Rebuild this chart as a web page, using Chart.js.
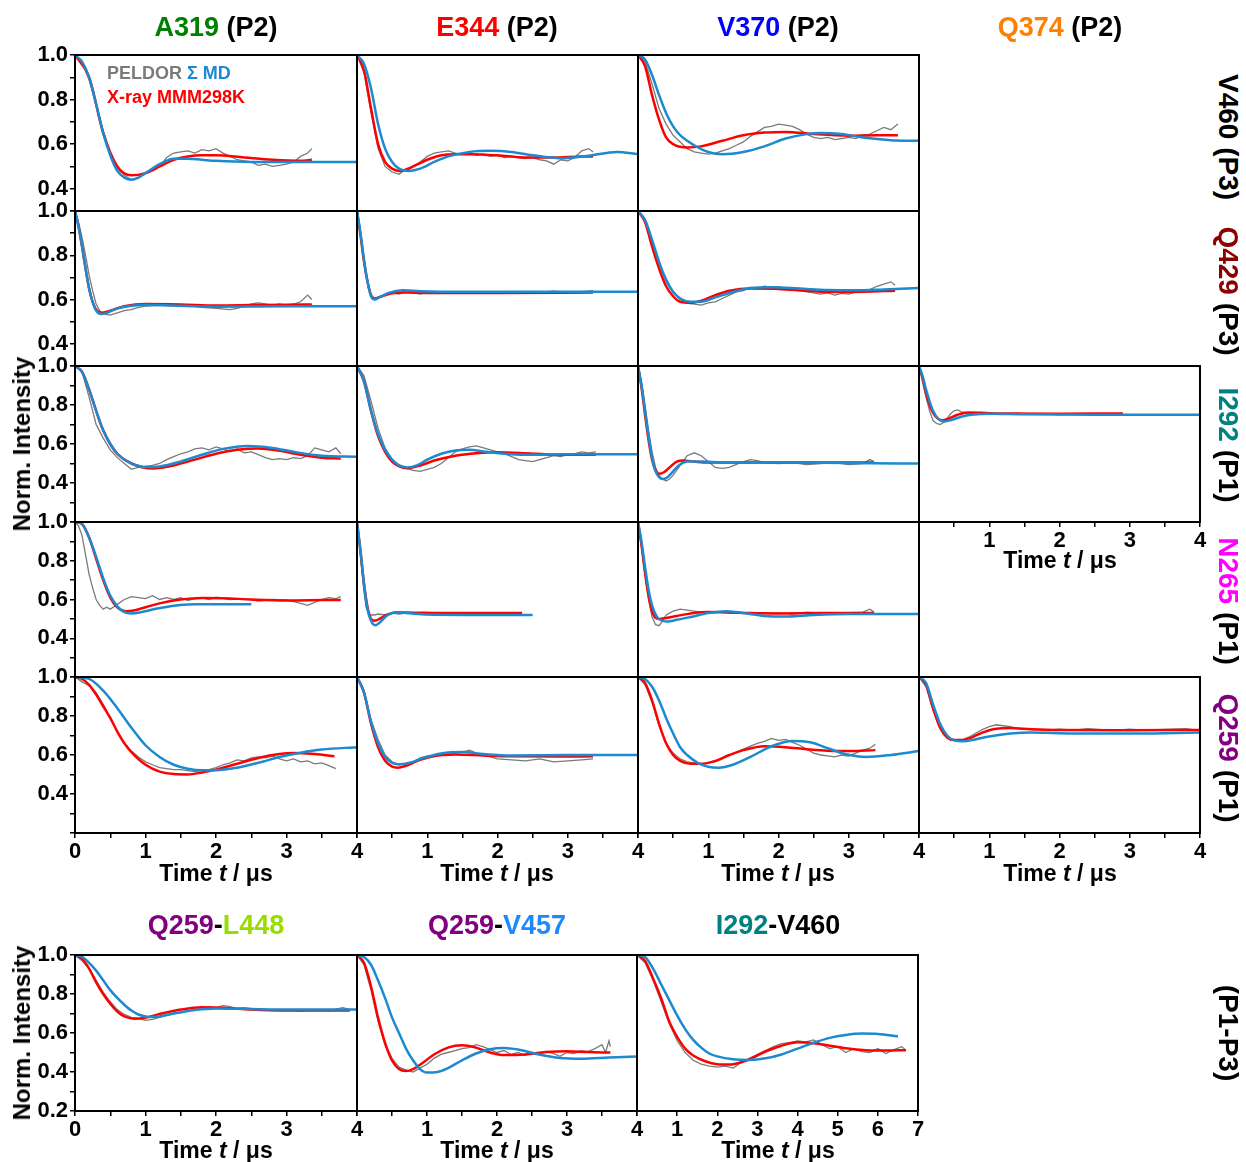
<!DOCTYPE html>
<html>
<head>
<meta charset="utf-8">
<script src="https://cdn.jsdelivr.net/npm/chart.js@4.4.1/dist/chart.umd.min.js"></script>
<style>
  body { margin: 0; background: #fff; }
  #fig { position: relative; width: 1246px; height: 1162px; font-family: "Liberation Sans", Arial, sans-serif; font-weight: bold; }
  #fig canvas { position: absolute; }
  .lbl { position: absolute; white-space: nowrap; transform: translate(-50%, -50%); color: #000; }
  .head { font-size: 27px; }
  .side { font-size: 28px; transform: translate(-50%, -50%) rotate(90deg); }
  .ylab { font-size: 24px; transform: translate(-50%, -50%) rotate(-90deg); }
  .time { font-size: 23px; }
  .leg { position: absolute; font-size: 18px; white-space: nowrap; transform: translateY(-50%); }
</style>
</head>
<body>
<div id="fig"></div>
<script>
// ---- data: [time in us, normalised intensity] ----
// row V460 (P3)
const A319_V460_exp = [[0,1],[.1,.97],[.2,.89],[.3,.78],[.4,.66],[.5,.56],[.6,.49],[.7,.46],[.8,.44],[.9,.45],[1,.47],[1.1,.48],[1.2,.5],[1.3,.54],[1.4,.56],[1.5,.565],[1.6,.57],[1.7,.56],[1.8,.575],[1.9,.57],[2,.58],[2.1,.56],[2.2,.545],[2.3,.53],[2.4,.525],[2.5,.52],[2.6,.505],[2.7,.51],[2.8,.5],[2.9,.505],[3,.51],[3.1,.52],[3.2,.545],[3.3,.56],[3.36,.58]];
const A319_V460_xray = [[0,1],[.2,.9],[.4,.65],[.6,.5],[.8,.46],[1,.47],[1.2,.5],[1.4,.53],[1.6,.545],[1.8,.55],[2,.55],[2.4,.54],[2.8,.53],[3.2,.525],[3.36,.53]];
const A319_V460_md = [[0,1],[.1,.97],[.2,.9],[.3,.78],[.4,.65],[.5,.55],[.6,.48],[.7,.45],[.8,.44],[.9,.45],[1,.47],[1.2,.51],[1.4,.535],[1.6,.535],[1.8,.53],[2,.525],[2.5,.52],[3,.52],[4,.52]];

const E344_V460_exp = [[0,1],[.1,.92],[.2,.74],[.3,.58],[.4,.5],[.5,.475],[.6,.465],[.7,.49],[.8,.5],[.9,.52],[1,.545],[1.1,.56],[1.2,.565],[1.3,.57],[1.4,.56],[1.5,.555],[1.6,.56],[1.7,.55],[1.8,.555],[1.9,.545],[2,.55],[2.1,.54],[2.2,.545],[2.3,.54],[2.4,.535],[2.5,.54],[2.6,.53],[2.7,.525],[2.8,.51],[2.9,.53],[3,.525],[3.1,.54],[3.2,.57],[3.3,.58],[3.36,.565]];
const E344_V460_xray = [[0,1],[.1,.93],[.2,.76],[.3,.6],[.4,.52],[.5,.49],[.6,.48],[.7,.485],[.8,.5],[1,.53],[1.2,.55],[1.4,.555],[1.6,.555],[2,.55],[2.4,.54],[2.8,.54],[3.2,.545],[3.36,.545]];
const E344_V460_md = [[0,1],[.1,.96],[.2,.85],[.3,.69],[.4,.58],[.5,.52],[.6,.49],[.75,.48],[.9,.49],[1.1,.52],[1.3,.545],[1.6,.565],[1.9,.57],[2.2,.565],[2.5,.55],[2.9,.537],[3.3,.548],[3.7,.565],[4,.555]];

const V370_V460_exp = [[0,1],[.1,.97],[.2,.87],[.3,.76],[.4,.69],[.5,.64],[.6,.61],[.7,.58],[.8,.565],[.9,.56],[1,.555],[1.1,.56],[1.2,.57],[1.3,.58],[1.4,.595],[1.5,.61],[1.6,.635],[1.7,.655],[1.8,.675],[1.9,.68],[2,.69],[2.1,.685],[2.2,.68],[2.3,.665],[2.4,.645],[2.5,.63],[2.6,.625],[2.7,.63],[2.8,.62],[2.9,.625],[3,.63],[3.1,.625],[3.2,.64],[3.3,.645],[3.4,.66],[3.5,.675],[3.6,.665],[3.7,.69]];
const V370_V460_xray = [[0,1],[.1,.95],[.2,.82],[.3,.71],[.4,.63],[.5,.6],[.7,.585],[.9,.59],[1.2,.615],[1.5,.64],[1.8,.652],[2.1,.655],[2.5,.645],[3,.638],[3.4,.64],[3.7,.64]];
const V370_V460_md = [[0,1],[.1,.98],[.2,.91],[.3,.82],[.4,.74],[.5,.68],[.6,.64],[.8,.595],[1,.565],[1.2,.555],[1.5,.565],[1.8,.59],[2.1,.625],[2.4,.645],[2.6,.65],[2.9,.645],[3.2,.63],[3.6,.618],[4,.615]];

// row Q429 (P3)
const A319_Q429_exp = [[0,1],[.05,.95],[.1,.88],[.15,.8],[.2,.71],[.25,.64],[.3,.58],[.35,.55],[.4,.535],[.5,.53],[.6,.54],[.7,.55],[.8,.555],[.9,.565],[1,.57],[1.2,.575],[1.4,.57],[1.6,.575],[1.8,.565],[2,.56],[2.2,.555],[2.3,.56],[2.4,.57],[2.5,.58],[2.6,.585],[2.7,.58],[2.8,.575],[2.9,.58],[3,.575],[3.1,.58],[3.2,.59],[3.3,.62],[3.36,.6]];
const A319_Q429_xray = [[0,1],[.05,.93],[.1,.84],[.15,.74],[.2,.65],[.25,.59],[.3,.555],[.37,.54],[.5,.55],[.7,.57],[1,.58],[1.5,.578],[2,.573],[2.5,.575],[3,.577],[3.36,.578]];
const A319_Q429_md = [[0,1],[.05,.93],[.1,.84],[.15,.74],[.2,.65],[.25,.59],[.3,.55],[.37,.535],[.45,.54],[.6,.56],[.8,.572],[1,.575],[1.5,.572],[2,.568],[3,.57],[4,.57]];

const E344_Q429_exp = [[0,1],[.05,.9],[.1,.78],[.15,.68],[.2,.62],[.25,.605],[.3,.61],[.4,.62],[.5,.63],[.6,.625],[.7,.64],[.8,.63],[.9,.625],[1,.635],[1.2,.63],[1.4,.635],[1.6,.628],[1.8,.634],[2,.632],[2.2,.636],[2.4,.63],[2.6,.634],[2.8,.638],[3,.632],[3.2,.636],[3.36,.64]];
const E344_Q429_xray = [[0,1],[.05,.89],[.1,.77],[.15,.68],[.2,.62],[.25,.605],[.35,.615],[.5,.628],[.7,.632],[1,.63],[2,.63],[3.36,.632]];
const E344_Q429_md = [[0,1],[.05,.9],[.1,.78],[.15,.68],[.2,.615],[.25,.6],[.32,.61],[.45,.63],[.65,.642],[.9,.638],[1.5,.635],[2.5,.635],[4,.635]];

const V370_Q429_exp = [[0,1],[.1,.96],[.2,.86],[.3,.76],[.4,.68],[.5,.63],[.6,.6],[.7,.585],[.8,.58],[.9,.575],[1,.585],[1.1,.59],[1.2,.605],[1.3,.62],[1.4,.635],[1.5,.64],[1.6,.655],[1.7,.65],[1.8,.66],[1.9,.655],[2,.658],[2.1,.65],[2.2,.645],[2.3,.64],[2.4,.635],[2.5,.63],[2.6,.625],[2.7,.63],[2.8,.62],[2.9,.628],[3,.625],[3.1,.635],[3.2,.64],[3.3,.645],[3.4,.66],[3.5,.67],[3.6,.68],[3.66,.665]];
const V370_Q429_xray = [[0,1],[.1,.95],[.2,.84],[.3,.74],[.4,.66],[.5,.615],[.6,.59],[.75,.585],[.9,.595],[1.1,.62],[1.3,.64],[1.6,.65],[2,.648],[2.4,.64],[2.8,.634],[3.2,.635],[3.66,.64]];
const V370_Q429_md = [[0,1],[.1,.96],[.2,.87],[.3,.77],[.4,.69],[.5,.635],[.6,.605],[.75,.59],[.9,.59],[1.1,.61],[1.3,.63],[1.6,.652],[1.9,.656],[2.3,.65],[2.7,.643],[3.1,.642],[3.5,.646],[4,.652]];

// row I292 (P1)
const A319_I292_exp = [[0,1],[.1,.97],[.2,.84],[.3,.7],[.4,.63],[.5,.57],[.6,.53],[.7,.5],[.8,.47],[.9,.48],[1,.485],[1.1,.49],[1.2,.5],[1.3,.52],[1.4,.535],[1.5,.55],[1.6,.56],[1.7,.575],[1.8,.58],[1.9,.57],[2,.585],[2.1,.575],[2.2,.56],[2.3,.575],[2.4,.555],[2.5,.56],[2.6,.545],[2.7,.53],[2.8,.52],[2.9,.525],[3,.52],[3.1,.53],[3.2,.525],[3.3,.54],[3.4,.58],[3.5,.57],[3.6,.56],[3.7,.58],[3.77,.55]];
const A319_I292_xray = [[0,1],[.1,.97],[.2,.88],[.3,.77],[.4,.67],[.5,.6],[.6,.55],[.8,.5],[1.1,.475],[1.4,.49],[1.7,.52],[2,.55],[2.3,.57],[2.6,.577],[2.9,.565],[3.2,.545],[3.5,.53],[3.77,.525]];
const A319_I292_md = [[0,1],[.1,.97],[.2,.88],[.3,.77],[.4,.67],[.5,.6],[.6,.55],[.8,.5],[1,.482],[1.2,.485],[1.5,.51],[1.8,.545],[2.1,.575],[2.45,.59],[2.8,.58],[3.1,.56],[3.5,.54],[4,.535]];

const E344_I292_exp = [[0,1],[.1,.95],[.2,.82],[.3,.68],[.4,.58],[.5,.52],[.6,.49],[.7,.475],[.8,.465],[.9,.46],[1,.47],[1.1,.48],[1.2,.5],[1.3,.53],[1.4,.56],[1.5,.575],[1.6,.585],[1.7,.59],[1.8,.58],[1.9,.57],[2,.56],[2.1,.55],[2.2,.535],[2.3,.52],[2.4,.515],[2.5,.51],[2.6,.52],[2.7,.53],[2.8,.54],[2.9,.535],[3,.545],[3.1,.55],[3.2,.56],[3.3,.555],[3.4,.56]];
const E344_I292_xray = [[0,1],[.1,.92],[.2,.77],[.3,.64],[.4,.56],[.5,.51],[.6,.485],[.72,.476],[.9,.49],[1.1,.515],[1.4,.54],[1.7,.553],[2,.558],[2.4,.553],[2.8,.545],[3.4,.545]];
const E344_I292_md = [[0,1],[.1,.92],[.2,.77],[.3,.65],[.4,.57],[.5,.52],[.6,.49],[.72,.48],[.85,.49],[1,.52],[1.2,.55],[1.4,.567],[1.6,.57],[1.8,.562],[2.1,.55],[2.4,.545],[3,.548],[4,.548]];

const V370_I292_exp = [[0,1],[.05,.92],[.1,.8],[.15,.67],[.2,.56],[.25,.48],[.3,.44],[.35,.42],[.4,.41],[.45,.42],[.5,.44],[.6,.49],[.7,.54],[.8,.555],[.9,.54],[1,.51],[1.1,.48],[1.2,.475],[1.3,.48],[1.4,.495],[1.5,.51],[1.6,.52],[1.7,.515],[1.8,.505],[2,.5],[2.2,.505],[2.4,.495],[2.6,.5],[2.8,.505],[3,.495],[3.2,.5],[3.3,.52],[3.36,.51]];
const V370_I292_xray = [[0,1],[.05,.89],[.1,.75],[.15,.62],[.2,.52],[.25,.465],[.3,.447],[.37,.455],[.45,.48],[.55,.51],[.65,.515],[.8,.51],[1,.505],[2,.505],[3.36,.505]];
const V370_I292_md = [[0,1],[.05,.9],[.1,.77],[.15,.64],[.2,.53],[.25,.46],[.3,.43],[.35,.42],[.42,.43],[.5,.46],[.6,.495],[.7,.51],[.9,.51],[1.2,.505],[2,.505],[3,.502],[4,.5]];

const Q374_I292_exp = [[0,1],[.05,.92],[.1,.84],[.15,.77],[.2,.72],[.25,.705],[.3,.7],[.35,.71],[.4,.73],[.45,.755],[.5,.77],[.55,.775],[.6,.765],[.7,.76],[.8,.75],[.9,.755],[1,.76],[1.2,.755],[1.4,.758],[1.6,.752],[1.8,.756],[2,.75],[2.2,.755],[2.4,.752],[2.6,.756],[2.8,.752],[2.9,.76]];
const Q374_I292_xray = [[0,1],[.05,.94],[.1,.86],[.15,.8],[.2,.76],[.27,.73],[.33,.722],[.42,.73],[.55,.75],[.7,.762],[.9,.76],[1.2,.756],[2,.755],[2.9,.757]];
const Q374_I292_md = [[0,1],[.05,.95],[.1,.88],[.15,.82],[.2,.77],[.27,.73],[.36,.716],[.45,.722],[.6,.74],[.8,.752],[1,.755],[1.5,.752],[2.5,.75],[4,.75]];

// row N265 (P1)
const A319_N265_exp = [[0,1],[.05,.98],[.1,.93],[.15,.83],[.2,.73],[.25,.66],[.3,.6],[.35,.57],[.4,.55],[.45,.56],[.5,.55],[.6,.575],[.7,.6],[.8,.615],[.9,.61],[1,.605],[1.1,.62],[1.2,.6],[1.3,.61],[1.4,.6],[1.5,.61],[1.6,.595],[1.7,.605],[1.8,.61],[1.9,.6],[2,.612],[2.2,.6],[2.4,.605],[2.6,.592],[2.8,.6],[3,.598],[3.2,.58],[3.3,.57],[3.4,.585],[3.5,.6],[3.6,.61],[3.7,.605],[3.77,.615]];
const A319_N265_xray = [[0,1],[.1,.99],[.2,.92],[.3,.81],[.4,.7],[.5,.61],[.6,.56],[.72,.54],[.85,.545],[1,.56],[1.2,.58],[1.5,.6],[1.8,.608],[2.1,.607],[2.5,.6],[3,.595],[3.5,.597],[3.77,.598]];
const A319_N265_md = [[0,1],[.1,.99],[.2,.92],[.3,.82],[.4,.71],[.5,.62],[.6,.565],[.7,.535],[.8,.528],[.95,.535],[1.15,.552],[1.4,.568],[1.7,.575],[2,.576],[2.5,.575]];

const E344_N265_exp = [[0,1],[.03,.9],[.06,.78],[.1,.64],[.13,.56],[.16,.53],[.2,.52],[.25,.52],[.3,.525],[.4,.52],[.5,.53],[.6,.525],[.7,.53],[.8,.528],[1,.53],[1.2,.526],[1.4,.532],[1.6,.528],[1.8,.53],[2,.527],[2.2,.532],[2.35,.53]];
const E344_N265_xray = [[0,1],[.05,.85],[.1,.68],[.15,.56],[.2,.5],[.25,.49],[.32,.5],[.42,.52],[.55,.533],[.8,.532],[1.2,.53],[2.35,.53]];
const E344_N265_md = [[0,1],[.05,.85],[.1,.68],[.15,.55],[.2,.49],[.26,.467],[.32,.48],[.42,.515],[.55,.533],[.7,.53],[1,.522],[1.5,.52],[2,.52],[2.5,.52]];

const V370_N265_exp = [[0,1],[.05,.87],[.1,.72],[.15,.6],[.2,.51],[.25,.47],[.3,.465],[.35,.49],[.4,.52],[.5,.54],[.6,.55],[.7,.545],[.8,.54],[.9,.535],[1,.53],[1.2,.535],[1.4,.53],[1.6,.528],[1.8,.532],[2,.53],[2.2,.525],[2.4,.535],[2.6,.53],[2.8,.528],[3,.532],[3.2,.535],[3.3,.55],[3.36,.535]];
const V370_N265_xray = [[0,1],[.05,.88],[.1,.74],[.15,.62],[.2,.54],[.25,.505],[.3,.5],[.4,.505],[.55,.515],[.75,.528],[1,.535],[1.4,.532],[2,.528],[2.6,.53],[3.36,.53]];
const V370_N265_md = [[0,1],[.05,.9],[.1,.77],[.15,.65],[.2,.57],[.27,.51],[.35,.49],[.42,.487],[.55,.495],[.75,.51],[1,.53],[1.25,.54],[1.5,.53],[1.8,.515],[2.1,.512],[2.5,.52],[3,.525],[4,.525]];

// row Q259 (P1)
const A319_Q259_exp = [[0,1],[.1,.975],[.2,.955],[.3,.92],[.4,.86],[.5,.79],[.6,.72],[.7,.66],[.8,.62],[.9,.59],[1,.565],[1.1,.55],[1.2,.535],[1.3,.53],[1.4,.525],[1.5,.525],[1.6,.52],[1.7,.515],[1.8,.52],[1.9,.525],[2,.535],[2.1,.55],[2.2,.56],[2.3,.575],[2.4,.57],[2.5,.585],[2.6,.59],[2.7,.585],[2.8,.595],[2.9,.58],[3,.57],[3.1,.58],[3.2,.565],[3.3,.57],[3.4,.555],[3.5,.56],[3.6,.545],[3.7,.53]];
const A319_Q259_xray = [[0,1],[.1,.99],[.2,.96],[.3,.91],[.4,.85],[.5,.79],[.6,.72],[.7,.66],[.8,.615],[1,.55],[1.2,.515],[1.4,.502],[1.6,.5],[1.8,.51],[2,.525],[2.3,.555],[2.6,.585],[2.9,.605],[3.1,.61],[3.4,.605],[3.68,.593]];
const A319_Q259_md = [[0,1],[.2,.99],[.4,.93],[.6,.84],[.8,.74],[1,.65],[1.2,.59],[1.4,.55],[1.6,.53],[1.8,.522],[2,.522],[2.3,.535],[2.6,.56],[2.9,.59],[3.2,.612],[3.5,.628],[4,.64]];

const E344_Q259_exp = [[0,1],[.05,.97],[.1,.93],[.15,.85],[.2,.78],[.3,.68],[.4,.6],[.5,.565],[.6,.55],[.7,.555],[.8,.565],[.9,.585],[1,.595],[1.1,.59],[1.2,.6],[1.3,.605],[1.4,.61],[1.5,.615],[1.6,.625],[1.7,.61],[1.8,.6],[1.9,.59],[2,.58],[2.2,.575],[2.4,.57],[2.6,.58],[2.8,.565],[3,.57],[3.2,.575],[3.36,.58]];
const E344_Q259_xray = [[0,1],[.1,.92],[.2,.76],[.3,.64],[.4,.57],[.5,.54],[.58,.535],[.7,.545],[.9,.575],[1.1,.595],[1.4,.603],[1.8,.597],[2.2,.593],[3,.592],[3.36,.593]];
const E344_Q259_md = [[0,1],[.1,.92],[.2,.77],[.3,.66],[.4,.59],[.5,.56],[.6,.552],[.75,.56],[.95,.585],[1.2,.608],[1.5,.615],[1.8,.605],[2.2,.598],[3,.6],[4,.6]];

const V370_Q259_exp = [[0,1],[.1,.96],[.2,.87],[.3,.75],[.4,.66],[.5,.61],[.6,.58],[.7,.565],[.8,.56],[.9,.555],[1,.56],[1.1,.565],[1.2,.58],[1.3,.6],[1.4,.615],[1.5,.63],[1.6,.645],[1.7,.66],[1.8,.67],[1.9,.685],[2,.675],[2.1,.68],[2.2,.665],[2.3,.65],[2.4,.63],[2.5,.61],[2.6,.6],[2.7,.595],[2.8,.59],[2.9,.6],[3,.595],[3.1,.61],[3.2,.625],[3.3,.635],[3.38,.655]];
const V370_Q259_xray = [[0,1],[.1,.97],[.2,.88],[.3,.76],[.4,.66],[.5,.6],[.6,.57],[.75,.555],[.9,.555],[1.1,.57],[1.3,.6],[1.5,.625],[1.8,.645],[2.1,.64],[2.4,.63],[2.7,.622],[3,.62],[3.38,.625]];
const V370_Q259_md = [[0,1],[.1,.99],[.2,.95],[.3,.88],[.4,.79],[.5,.71],[.6,.64],[.7,.6],[.85,.56],[1,.54],[1.15,.535],[1.35,.55],[1.6,.59],[1.9,.645],[2.2,.672],[2.45,.665],[2.7,.635],[2.95,.605],[3.25,.59],[3.6,.6],[4,.62]];

const Q374_Q259_exp = [[0,1],[.1,.95],[.2,.83],[.3,.74],[.4,.69],[.5,.68],[.6,.675],[.7,.69],[.8,.71],[.9,.73],[1,.745],[1.1,.755],[1.2,.75],[1.3,.745],[1.4,.735],[1.6,.73],[1.8,.728],[2,.733],[2.2,.728],[2.4,.735],[2.6,.73],[2.8,.727],[3,.733],[3.2,.728],[3.4,.73],[3.6,.732],[3.8,.735],[3.9,.73]];
const Q374_Q259_xray = [[0,1],[.1,.96],[.2,.84],[.3,.74],[.4,.69],[.5,.677],[.6,.677],[.75,.69],[.9,.715],[1.1,.735],[1.3,.738],[1.6,.732],[2,.728],[3,.727],[4,.728]];
const Q374_Q259_md = [[0,1],[.1,.97],[.2,.86],[.3,.76],[.4,.7],[.5,.675],[.63,.67],[.8,.68],[1,.695],[1.3,.71],[1.6,.716],[2,.712],[2.5,.71],[3,.71],[3.5,.712],[4,.716]];

// double mutants (P1-P3)
const Q259_L448_exp = [[0,1],[.1,.97],[.2,.93],[.3,.87],[.4,.81],[.5,.76],[.6,.72],[.7,.695],[.8,.68],[.9,.675],[1,.665],[1.1,.67],[1.2,.68],[1.3,.69],[1.4,.7],[1.5,.705],[1.6,.715],[1.7,.72],[1.8,.725],[1.9,.735],[2,.73],[2.1,.74],[2.2,.735],[2.3,.725],[2.4,.73],[2.6,.72],[2.8,.715],[3,.72],[3.2,.712],[3.4,.72],[3.6,.715],[3.8,.73],[3.9,.72]];
const Q259_L448_xray = [[0,1],[.1,.98],[.2,.93],[.3,.86],[.4,.8],[.5,.75],[.6,.71],[.7,.685],[.85,.673],[1,.678],[1.2,.697],[1.5,.72],[1.8,.732],[2.1,.73],[2.5,.72],[3,.715],[3.5,.715],[3.9,.716]];
const Q259_L448_md = [[0,1],[.1,.99],[.2,.96],[.3,.92],[.4,.87],[.5,.82],[.6,.78],[.7,.745],[.8,.715],[.9,.695],[1.05,.682],[1.2,.685],[1.4,.7],[1.7,.718],[2,.726],[2.4,.724],[3,.72],[4,.72]];

const Q259_V457_exp = [[0,1],[.1,.95],[.2,.82],[.3,.66],[.4,.54],[.5,.47],[.6,.425],[.7,.41],[.8,.4],[.9,.42],[1,.44],[1.1,.47],[1.2,.49],[1.3,.5],[1.4,.51],[1.5,.52],[1.6,.525],[1.7,.54],[1.8,.53],[1.9,.515],[2,.5],[2.1,.51],[2.2,.49],[2.3,.5],[2.4,.485],[2.5,.5],[2.6,.49],[2.7,.505],[2.8,.495],[2.9,.48],[3,.5],[3.1,.495],[3.2,.51],[3.3,.505],[3.4,.52],[3.5,.54],[3.55,.5],[3.6,.56],[3.62,.53]];
const Q259_V457_xray = [[0,1],[.1,.96],[.2,.84],[.3,.68],[.4,.55],[.5,.46],[.6,.415],[.7,.405],[.8,.415],[.95,.45],[1.1,.49],[1.3,.525],[1.5,.537],[1.7,.525],[1.9,.5],[2.1,.487],[2.4,.49],[2.7,.503],[3,.507],[3.3,.502],[3.62,.5]];
const Q259_V457_md = [[0,1],[.1,.99],[.2,.95],[.3,.87],[.4,.78],[.5,.68],[.6,.6],[.7,.52],[.8,.46],[.9,.415],[1,.397],[1.15,.4],[1.3,.42],[1.5,.46],[1.7,.495],[1.9,.517],[2.1,.523],[2.3,.515],[2.6,.49],[2.9,.472],[3.2,.468],[3.6,.474],[4,.48]];

const I292_V460_exp = [[0,1],[.2,.96],[.4,.87],[.6,.76],[.8,.65],[1,.56],[1.2,.5],[1.4,.46],[1.6,.44],[1.8,.43],[2,.425],[2.2,.43],[2.4,.42],[2.6,.45],[2.8,.47],[3,.49],[3.2,.51],[3.4,.53],[3.6,.545],[3.8,.55],[4,.56],[4.2,.555],[4.4,.565],[4.6,.54],[4.8,.52],[5,.53],[5.2,.5],[5.4,.52],[5.6,.505],[5.8,.5],[6,.52],[6.2,.495],[6.4,.515],[6.6,.53],[6.7,.51]];
const I292_V460_xray = [[0,1],[.2,.97],[.4,.88],[.6,.78],[.8,.66],[1,.58],[1.2,.52],[1.4,.485],[1.7,.455],[2,.44],[2.3,.438],[2.6,.45],[2.9,.475],[3.2,.505],[3.6,.535],[4,.552],[4.4,.548],[4.8,.535],[5.2,.522],[5.7,.512],[6.2,.51],[6.7,.512]];
const I292_V460_md = [[0,1],[.2,.99],[.4,.93],[.6,.85],[.8,.77],[1,.69],[1.2,.62],[1.4,.565],[1.6,.525],[1.8,.495],[2,.48],[2.4,.465],[2.8,.462],[3.2,.47],[3.6,.49],[4,.52],[4.4,.55],[4.8,.575],[5.2,.59],[5.6,.597],[6,.595],[6.5,.582]];

// ---- text ----
const colTitles = [['A319', '#008000'], ['E344', '#ff0000'], ['V370', '#0000ff'], ['Q374', '#ff8000']];
const rowLabels = [['V460', '#000000', 'P3'], ['Q429', '#8b0000', 'P3'], ['I292', '#008080', 'P1'], ['N265', '#ff00ff', 'P1'], ['Q259', '#800080', 'P1']];

const BLUE = '#1b8ad0', RED = '#ff0000', GRAY = '#7a7a7a';
const ML = 60, MT = 16, MR = 16, MB = 40;

const colX = [75, 357, 638, 919];
const colW = [282, 281, 281, 281];
const rowY = [55, 211, 366, 522, 677];
const rowH = [156, 155, 156, 155, 156];

// c, r: grid cell; ymin: bottom of y range; xt: x tick labels shown
const panels = [
  { c: 0, r: 0, exp: A319_V460_exp, xray: A319_V460_xray, md: A319_V460_md, ymin: 0.3 },
  { c: 1, r: 0, exp: E344_V460_exp, xray: E344_V460_xray, md: E344_V460_md, ymin: 0.3 },
  { c: 2, r: 0, exp: V370_V460_exp, xray: V370_V460_xray, md: V370_V460_md, ymin: 0.3 },
  { c: 0, r: 1, exp: A319_Q429_exp, xray: A319_Q429_xray, md: A319_Q429_md, ymin: 0.3 },
  { c: 1, r: 1, exp: E344_Q429_exp, xray: E344_Q429_xray, md: E344_Q429_md, ymin: 0.3 },
  { c: 2, r: 1, exp: V370_Q429_exp, xray: V370_Q429_xray, md: V370_Q429_md, ymin: 0.3 },
  { c: 0, r: 2, exp: A319_I292_exp, xray: A319_I292_xray, md: A319_I292_md, ymin: 0.2 },
  { c: 1, r: 2, exp: E344_I292_exp, xray: E344_I292_xray, md: E344_I292_md, ymin: 0.2 },
  { c: 2, r: 2, exp: V370_I292_exp, xray: V370_I292_xray, md: V370_I292_md, ymin: 0.2 },
  { c: 3, r: 2, exp: Q374_I292_exp, xray: Q374_I292_xray, md: Q374_I292_md, ymin: 0.2, xt: true },
  { c: 0, r: 3, exp: A319_N265_exp, xray: A319_N265_xray, md: A319_N265_md, ymin: 0.2 },
  { c: 1, r: 3, exp: E344_N265_exp, xray: E344_N265_xray, md: E344_N265_md, ymin: 0.2 },
  { c: 2, r: 3, exp: V370_N265_exp, xray: V370_N265_xray, md: V370_N265_md, ymin: 0.2 },
  { c: 0, r: 4, exp: A319_Q259_exp, xray: A319_Q259_xray, md: A319_Q259_md, ymin: 0.2, xt: true },
  { c: 1, r: 4, exp: E344_Q259_exp, xray: E344_Q259_xray, md: E344_Q259_md, ymin: 0.2, xt: true },
  { c: 2, r: 4, exp: V370_Q259_exp, xray: V370_Q259_xray, md: V370_Q259_md, ymin: 0.2, xt: true },
  { c: 3, r: 4, exp: Q374_Q259_exp, xray: Q374_Q259_xray, md: Q374_Q259_md, ymin: 0.2, xt: true },
];
const bottomPanels = [
  { x: 75, w: 282, exp: Q259_L448_exp, xray: Q259_L448_xray, md: Q259_L448_md, xmax: 4 },
  { x: 357, w: 280, exp: Q259_V457_exp, xray: Q259_V457_xray, md: Q259_V457_md, xmax: 4 },
  { x: 637, w: 281, exp: I292_V460_exp, xray: I292_V460_xray, md: I292_V460_md, xmax: 7 },
];

const fig = document.getElementById('fig');
Chart.defaults.font.family = '"Liberation Sans", Arial, sans-serif';
Chart.defaults.font.weight = 'bold';
Chart.defaults.color = '#000';

const frame = {
  id: 'frame',
  afterDatasetsDraw(chart) {
    const a = chart.chartArea, g = chart.ctx;
    g.save();
    g.lineWidth = 2;
    g.strokeStyle = '#000';
    g.strokeRect(a.left, a.top, a.right - a.left, a.bottom - a.top);
    g.restore();
  }
};

const toXY = arr => arr.map(([x, y]) => ({ x, y }));

function drawPanel(o) {
  const cv = document.createElement('canvas');
  cv.width = o.w + ML + MR;
  cv.height = o.h + MT + MB;
  cv.style.left = (o.x - ML) + 'px';
  cv.style.top = (o.y - MT) + 'px';
  fig.appendChild(cv);
  const tickGrid = { display: true, drawOnChartArea: false, drawTicks: true, tickLength: 5, color: '#000', lineWidth: 1.5 };
  const off = { display: false };
  new Chart(cv, {
    type: 'line',
    data: {
      datasets: [
        { data: toXY(o.md), borderColor: BLUE, borderWidth: 2.5, cubicInterpolationMode: 'monotone' },
        { data: toXY(o.xray), borderColor: RED, borderWidth: 2.5, cubicInterpolationMode: 'monotone' },
        { data: toXY(o.exp), borderColor: GRAY, borderWidth: 1.3, tension: 0 }
      ]
    },
    options: {
      responsive: false,
      animation: false,
      events: [],
      layout: { padding: { left: 0, top: MT, right: MR, bottom: 0 } },
      elements: { point: { radius: 0 } },
      plugins: { legend: { display: false }, tooltip: { enabled: false } },
      scales: {
        x: {
          type: 'linear', min: 0, max: o.xmax,
          afterFit: s => { s.height = MB; },
          border: off,
          grid: o.xt ? tickGrid : off,
          ticks: {
            display: !!o.xt, autoSkip: false, maxRotation: 0, padding: 1,
            stepSize: o.xmax > 4 ? 1 : 0.5,
            font: { size: 22, weight: 'bold' },
            callback: v => (Math.abs(v % 1) < 1e-9 && (v > 0 || o.zero)) ? String(v) : ''
          }
        },
        y: {
          type: 'linear', min: o.ymin, max: 1,
          afterFit: s => { s.width = ML; },
          border: off,
          grid: o.yt ? tickGrid : off,
          ticks: {
            display: !!o.yt, autoSkip: false, padding: 2, stepSize: 0.1,
            font: { size: 22, weight: 'bold' },
            callback: v => {
              const k = Math.round(v * 10);
              return (k % 2 === 0 && k >= o.ylab * 10) ? (k / 10).toFixed(1) : '';
            }
          }
        }
      }
    },
    plugins: [frame]
  });
}

panels.forEach(p => drawPanel({
  x: colX[p.c], y: rowY[p.r], w: colW[p.c], h: rowH[p.r],
  exp: p.exp, xray: p.xray, md: p.md, ymin: p.ymin, xmax: 4,
  xt: p.xt, zero: p.c === 0, yt: p.c === 0, ylab: 0.4
}));
bottomPanels.forEach((p, i) => drawPanel({
  x: p.x, y: 955, w: p.w, h: 156,
  exp: p.exp, xray: p.xray, md: p.md, ymin: 0.2, xmax: p.xmax,
  xt: true, zero: i === 0, yt: i === 0, ylab: 0.2
}));

function label(html, cls, x, y) {
  const d = document.createElement('div');
  d.className = 'lbl ' + cls;
  d.innerHTML = html;
  d.style.left = x + 'px';
  d.style.top = y + 'px';
  fig.appendChild(d);
}
const colC = [216, 497, 778, 1060];
colTitles.forEach(([name, col], i) =>
  label(`<span style="color:${col}">${name}</span> (P2)`, 'head', colC[i], 27));
const rowC = [137, 291, 445, 601, 758];
rowLabels.forEach(([name, col, p], i) =>
  label(`<span style="color:${col}">${name}</span> (${p})`, 'side', 1228, rowC[i]));
label('(P1-P3)', 'side', 1228, 1033);

label('<span style="color:#800080">Q259</span>-<span style="color:#99dd00">L448</span>', 'head', 216, 925);
label('<span style="color:#800080">Q259</span>-<span style="color:#1e88ff">V457</span>', 'head', 497, 925);
label('<span style="color:#008080">I292</span>-V460', 'head', 778, 925);

const timeTxt = 'Time <i>t</i> / μs';
colC.forEach(x => label(timeTxt, 'time', x, 873));
label(timeTxt, 'time', 1060, 560);
colC.slice(0, 3).forEach(x => label(timeTxt, 'time', x, 1150));
label('Norm. Intensity', 'ylab', 22, 444);
label('Norm. Intensity', 'ylab', 22, 1033);

const leg1 = document.createElement('div');
leg1.className = 'leg';
leg1.style.left = '107px'; leg1.style.top = '73px';
leg1.innerHTML = `<span style="color:${GRAY}">PELDOR</span> <span style="color:${BLUE}">Σ MD</span>`;
fig.appendChild(leg1);
const leg2 = document.createElement('div');
leg2.className = 'leg';
leg2.style.left = '107px'; leg2.style.top = '97px';
leg2.innerHTML = `<span style="color:${RED}">X-ray MMM298K</span>`;
fig.appendChild(leg2);
</script>
</body>
</html>
